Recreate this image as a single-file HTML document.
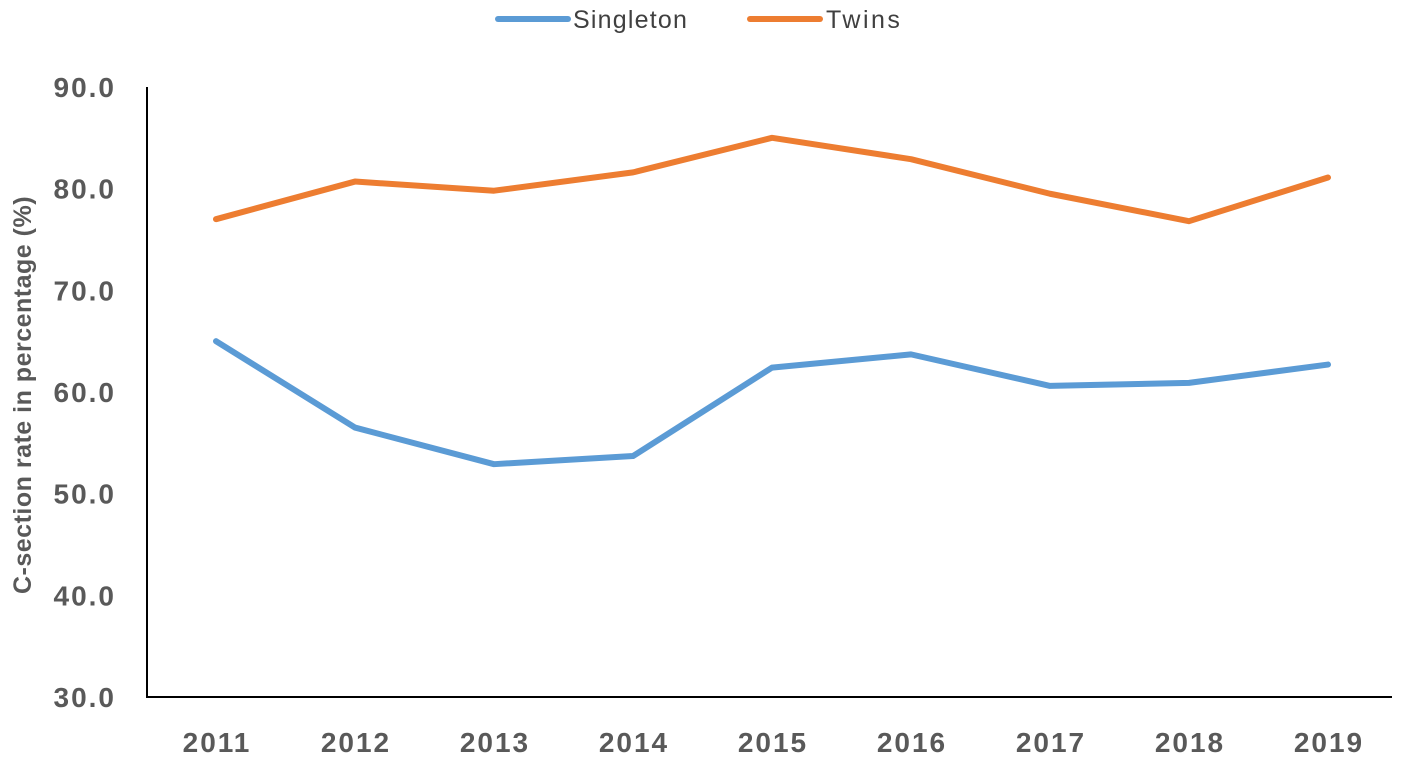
<!DOCTYPE html>
<html><head><meta charset="utf-8"><style>
body{margin:0;background:#fff;}
svg{display:block;font-family:"Liberation Sans",Arial,sans-serif;}
</style></head><body>
<svg id="chart" width="1405" height="759">
<g>
<line x1="498" y1="19" x2="568" y2="19" stroke="#5B9BD5" stroke-width="6" stroke-linecap="round"/>
<text x="573" y="28" font-size="25" letter-spacing="1.2" fill="#404040">Singleton</text>
<line x1="750" y1="19" x2="820" y2="19" stroke="#ED7D31" stroke-width="6" stroke-linecap="round"/>
<text x="826" y="28" font-size="25" letter-spacing="2.5" fill="#404040">Twins</text>
</g>
<text transform="translate(31,395) rotate(-90)" text-anchor="middle" font-size="25" letter-spacing="0.5" font-weight="bold" fill="#595959">C-section rate in percentage (%)</text>
<g id="axes"></g>
<g id="series"></g>
</svg>
<script>
const categories=["2011","2012","2013","2014","2015","2016","2017","2018","2019"];
const singleton=[65.0,56.5,52.9,53.7,62.4,63.7,60.6,60.9,62.7];
const twins=[77.0,80.7,79.8,81.6,85.0,82.9,79.5,76.8,81.1];
const yTicks=[30,40,50,60,70,80,90];
const NS="http://www.w3.org/2000/svg";
const x0=216,dx=139,yBase=697,yTop=87,yMin=30,yMax=90;
const xs=i=>x0+i*dx;
const ys=v=>yBase-(v-yMin)/(yMax-yMin)*(yBase-yTop);
const axes=document.getElementById('axes'),series=document.getElementById('series');
function mk(tag,attrs,parent){const e=document.createElementNS(NS,tag);for(const k in attrs)e.setAttribute(k,attrs[k]);parent.appendChild(e);return e;}
const ya=mk('line',{x1:147,y1:yTop,x2:147,y2:yBase,stroke:'#000','stroke-width':2},axes);


const xa=mk('line',{x1:146,y1:yBase,x2:1392,y2:yBase,stroke:'#000','stroke-width':2},axes);


yTicks.forEach(v=>{const t=mk('text',{x:116,y:ys(v)+10,'text-anchor':'end','font-size':28,'letter-spacing':2,'font-weight':'bold',fill:'#595959'},axes);t.textContent=v.toFixed(1);

});
categories.forEach((c,i)=>{const t=mk('text',{x:xs(i)+1,y:752,'text-anchor':'middle','font-size':28,'letter-spacing':2,'font-weight':'bold',fill:'#595959'},axes);t.textContent=c;

});
function line(data,color,name){const p=mk('polyline',{points:data.map((v,i)=>xs(i)+','+ys(v)).join(' '),fill:'none',stroke:color,'stroke-width':6,'stroke-linecap':'round','stroke-linejoin':'round'},series);

}
line(twins,'#ED7D31','twins-line');
line(singleton,'#5B9BD5','singleton-line');
</script>
</body></html>
